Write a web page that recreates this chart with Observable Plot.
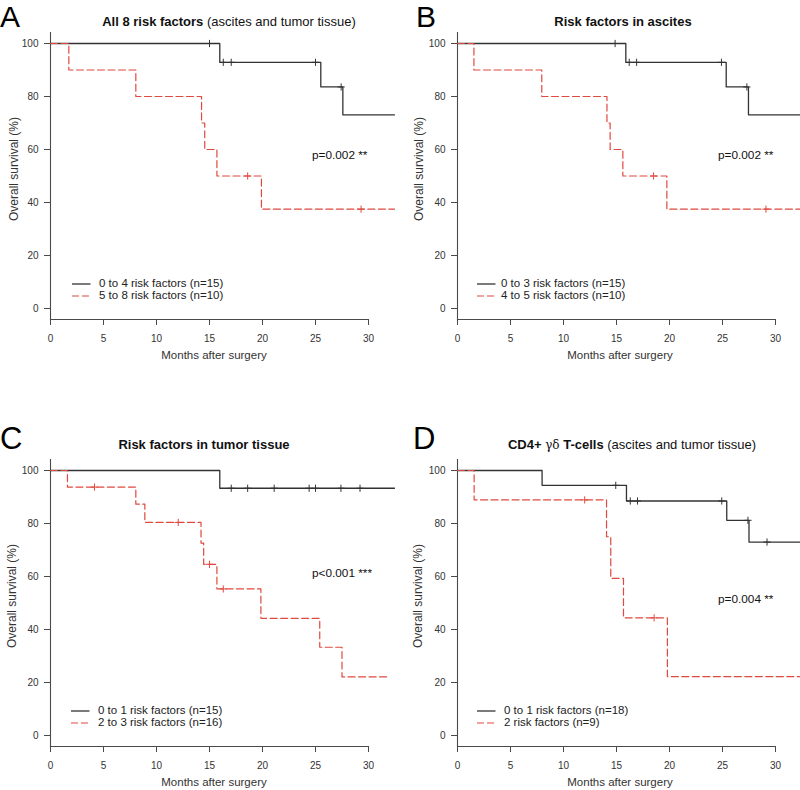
<!DOCTYPE html>
<html>
<head>
<meta charset="utf-8">
<script src="https://cdn.jsdelivr.net/npm/d3@7"></script>
<script src="https://cdn.jsdelivr.net/npm/@observablehq/plot@0.6"></script>
<style>
  html, body { margin: 0; padding: 0; background: #fff; }
  #wrap { position: relative; width: 800px; height: 790px; font-family: 'Liberation Sans', Arial, Helvetica, sans-serif; color: #1a1a1a; overflow: hidden; }
  .panel { position: absolute; width: 400px; height: 363px; }
  .panel > svg.plotsvg { position: absolute; left: 0; top: 0; }
  .t { position: absolute; white-space: nowrap; }
</style>
</head>
<body>
<div id="wrap"></div>
<script>
// ---------------- data ----------------
const xTicks = [0, 5, 10, 15, 20, 25, 30];
const yTicks = [0, 20, 40, 60, 80, 100];

// Panel A: All 8 risk factors
const aLowTimes = [0, 15.97, 25.5, 27.58, 32.45];
const aLowSurv  = [100, 92.9, 83.6, 73.1, 73.1];
const aLowCens  = [15.0, 16.3, 17.05, 25.0, 27.42];
const aHighTimes = [0, 1.73, 8.05, 14.25, 14.55, 15.7, 19.9, 32.45];
const aHighSurv  = [100, 90, 80, 70, 60, 50, 37.5, 37.5];
const aHighCens  = [18.6, 29.3];

// Panel B: Risk factors in ascites
const bLowTimes = [0, 15.88, 25.35, 27.45, 32.45];
const bLowSurv  = [100, 92.9, 83.6, 73.1, 73.1];
const bLowCens  = [14.87, 16.2, 16.9, 24.9, 27.3];
const bHighTimes = [0, 1.55, 7.95, 14.1, 14.4, 15.6, 19.75, 32.45];
const bHighSurv  = [100, 90, 80, 70, 60, 50, 37.5, 37.5];
const bHighCens  = [18.5, 29.1];

// Panel C: Risk factors in tumor tissue
const cLowTimes = [0, 15.97, 32.45];
const cLowSurv  = [100, 93.3, 93.3];
const cLowCens  = [17.05, 18.6, 21.1, 24.4, 25.0, 27.4, 29.2];
const cHighTimes = [0, 1.6, 8.05, 8.9, 14.2, 14.45, 15.7, 19.85, 25.4, 27.5, 31.85];
const cHighSurv  = [100, 93.75, 87.3, 80.4, 72.6, 64.6, 55.3, 44.2, 33.3, 22.1, 22.1];
const cHighCens  = [4.15, 12.05, 15.0, 16.3];

// Panel D: CD4+ gamma-delta T-cells
const dLowTimes = [0, 7.98, 15.94, 25.4, 27.5, 32.45];
const dLowSurv  = [100, 94.4, 88.5, 81.2, 73.0, 73.0];
const dLowCens  = [14.93, 16.3, 16.98, 24.93, 27.4, 29.2];
const dHighTimes = [0, 1.57, 14.06, 14.46, 15.66, 19.8, 32.45];
const dHighSurv  = [100, 88.9, 75.0, 59.3, 44.4, 22.2, 22.2];
const dHighCens  = [12.0, 18.55];

const titles = [
  "<b>All 8 risk factors</b> (ascites and tumor tissue)",
  "<b>Risk factors in ascites</b>",
  "<b>Risk factors in tumor tissue</b>",
  "<b>CD4+</b> <span style=\"font-family:'DejaVu Serif','Liberation Serif',serif;font-weight:normal;font-size:12px\">γδ</span> <b>T-cells</b> (ascites and tumor tissue)"
];
const letters = ["A", "B", "C", "D"];
const pValues = ["p=0.002 **", "p=0.002 **", "p<0.001 ***", "p=0.004 **"];
const lowLabels  = ["0 to 4 risk factors (n=15)", "0 to 3 risk factors (n=15)", "0 to 1 risk factors (n=15)", "0 to 1 risk factors (n=18)"];
const highLabels = ["5 to 8 risk factors (n=10)", "4 to 5 risk factors (n=10)", "2 to 3 risk factors (n=16)", "2 risk factors (n=9)"];

// ---------------- layout / style ----------------
const BLACK = "#333333";
const RED = "#e0493f";
const AXIS = "#4a4a4a";
const FONT = "'Liberation Sans', Arial, Helvetica, sans-serif";

const layout = [
  {left: 0,   top: 0,   x0: 50, x30: 368, letterX: 0,  letterY: 27.8, letterFs: 30, titleX: 229, titleY: 26,  pX: 312, pY: 159.5, legLine: 72, legText: 99,  xlabX: 214, ylabX: 13.5},
  {left: 400, top: 0,   x0: 57, x30: 375, letterX: 16, letterY: 27.8, letterFs: 30, titleX: 223, titleY: 26,  pX: 318, pY: 160,   legLine: 77, legText: 101, xlabX: 220, ylabX: 18.5},
  {left: 0,   top: 427, x0: 50, x30: 368, letterX: 0,  letterY: 22,   letterFs: 31, titleX: 204, titleY: 22.5, pX: 312, pY: 150.5, legLine: 71, legText: 98,  xlabX: 214, ylabX: 12},
  {left: 400, top: 427, x0: 57, x30: 375, letterX: 13, letterY: 22,   letterFs: 31, titleX: 232, titleY: 22.5, pX: 318, pY: 177,   legLine: 77, legText: 104, xlabX: 220, ylabX: 18}
];

const series = [
  [aLowTimes, aLowSurv, aLowCens, aHighTimes, aHighSurv, aHighCens],
  [bLowTimes, bLowSurv, bLowCens, bHighTimes, bHighSurv, bHighCens],
  [cLowTimes, cLowSurv, cLowCens, cHighTimes, cHighSurv, cHighCens],
  [dLowTimes, dLowSurv, dLowCens, dHighTimes, dHighSurv, dHighCens]
];

// plus-shaped censor symbol (R pch=3)
const plusSymbol = {
  draw(ctx, size) {
    const r = Math.sqrt(size / Math.PI);
    ctx.moveTo(-r, 0); ctx.lineTo(r, 0);
    ctx.moveTo(0, -r); ctx.lineTo(0, r);
  }
};

function survAt(times, surv, t) {
  let s = surv[0];
  for (let i = 0; i < times.length; i++) if (times[i] <= t) s = surv[i];
  return s;
}
function curve(times, surv) { return times.map((t, i) => ({t, s: surv[i]})); }
function cens(times, surv, c) { return c.map(t => ({t, s: survAt(times, surv, t)})); }

function addText(parent, html, x, baseline, fs, anchor, extra) {
  const d = document.createElement("div");
  d.className = "t";
  d.innerHTML = html;
  d.style.fontSize = fs + "px";
  d.style.lineHeight = fs + "px";
  d.style.left = x + "px";
  d.style.top = (baseline - 0.8465 * fs) + "px";
  if (anchor === "middle") d.style.transform = "translateX(-50%)";
  Object.assign(d.style, extra || {});
  parent.appendChild(d);
  return d;
}

const wrap = document.getElementById("wrap");

layout.forEach((L, k) => {
  const [lt, ls, lc, ht, hs, hc] = series[k];
  const panel = document.createElement("div");
  panel.className = "panel";
  panel.style.left = L.left + "px";
  panel.style.top = L.top + "px";
  wrap.appendChild(panel);

  const chart = Plot.plot({
    width: 400,
    height: 363,
    marginLeft: L.x0,
    marginRight: 400 - L.x30,
    marginTop: 32,
    marginBottom: 44,
    x: {domain: [0, 30], range: [L.x0, L.x30]},
    y: {domain: [0, 100], range: [308, 43]},
    style: {fontFamily: FONT, fontSize: "10px", color: "#333", background: "transparent", overflow: "visible"},
    marks: [
      Plot.frame({anchor: "left", stroke: AXIS, strokeWidth: 1.1}),
      Plot.frame({anchor: "bottom", stroke: AXIS, strokeWidth: 1.1}),
      Plot.axisX({ticks: xTicks, tickSize: 6, tickPadding: 9, label: null, stroke: AXIS, fontSize: 10}),
      Plot.axisY({ticks: yTicks, tickSize: 6, tickPadding: 6, label: null, stroke: AXIS, fontSize: 10}),
      Plot.line(curve(lt, ls), {x: "t", y: "s", curve: "step-after", stroke: BLACK, strokeWidth: 1.3}),
      Plot.dot(cens(lt, ls, lc), {x: "t", y: "s", symbol: plusSymbol, r: 3.6, stroke: BLACK, fill: "none", strokeWidth: 1}),
      Plot.line(curve(ht, hs), {x: "t", y: "s", curve: "step-after", stroke: RED, strokeWidth: 1.2, strokeDasharray: "7,3.5"}),
      Plot.dot(cens(ht, hs, hc), {x: "t", y: "s", symbol: plusSymbol, r: 3.6, stroke: RED, fill: "none", strokeWidth: 1})
    ]
  });
  chart.classList.add("plotsvg");
  panel.appendChild(chart);

  // panel letter
  addText(panel, letters[k], L.letterX, L.letterY, L.letterFs, "start", {color: "#000"});
  // title
  addText(panel, titles[k], L.titleX, L.titleY, 13, "middle", {color: "#111"});
  // p-value
  addText(panel, pValues[k], L.pX, L.pY, 11.8, "start", {color: "#111"});
  // axis titles
  addText(panel, "Months after surgery", L.xlabX, 360, 11.5, "middle", {color: "#333"});
  const yl = document.createElement("div");
  yl.className = "t";
  yl.textContent = "Overall survival (%)";
  Object.assign(yl.style, {fontSize: "12px", lineHeight: "12px", left: L.ylabX + "px", top: "168.5px", color: "#333",
    transform: "translate(-50%,-50%) rotate(-90deg)"});
  panel.appendChild(yl);

  // legend
  const legRows = [
    {label: lowLabels[k], color: BLACK, dash: null, y: 283.5},
    {label: highLabels[k], color: RED, dash: "7,3", y: 295.8}
  ];
  legRows.forEach(r => {
    const sw = document.createElementNS("http://www.w3.org/2000/svg", "svg");
    sw.setAttribute("width", 20); sw.setAttribute("height", 4);
    sw.style.position = "absolute";
    sw.style.left = L.legLine + "px";
    sw.style.top = (r.y - 2) + "px";
    const ln = document.createElementNS("http://www.w3.org/2000/svg", "line");
    ln.setAttribute("x1", 0); ln.setAttribute("x2", 18.5);
    ln.setAttribute("y1", 2); ln.setAttribute("y2", 2);
    ln.setAttribute("stroke", r.color); ln.setAttribute("stroke-width", r.dash ? 1.2 : 1.3);
    if (r.dash) ln.setAttribute("stroke-dasharray", r.dash);
    sw.appendChild(ln);
    panel.appendChild(sw);
    addText(panel, r.label, L.legText, r.y + 4.2, 11.5, "start", {color: "#222"});
  });
});
</script>
</body>
</html>
